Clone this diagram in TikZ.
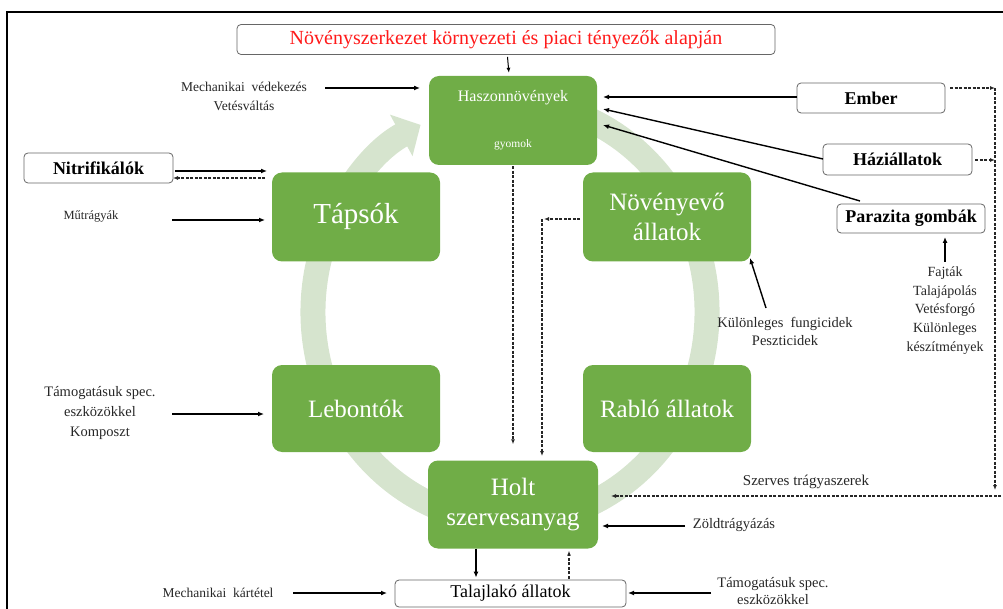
\documentclass[tikz,border=0pt]{standalone}
\usepackage{fontspec}
\setmainfont{Liberation Serif}
\usetikzlibrary{arrows.meta}
\definecolor{gfill}{HTML}{70AD47}
\definecolor{ringc}{HTML}{D6E4CE}
\definecolor{txtc}{HTML}{262626}
\definecolor{titlered}{HTML}{FF1A1A}
\begin{document}
\begin{tikzpicture}[x=1pt,y=-1pt,
 gbox/.style={fill=gfill, rounded corners=10pt, text=white, minimum width=168pt, minimum height=89pt, align=center, inner sep=0pt, font=\fontsize{25}{30}\selectfont},
 wbox/.style={draw=gray!80!black, line width=0.8pt, rounded corners=4pt, fill=white, inner sep=0pt, text=black},
 bbox/.style={wbox, font=\bfseries\fontsize{18}{20}\selectfont},
 lbl/.style={text=txtc, align=center, inner sep=0pt},
 arr/.style={-{Latex[length=6pt,width=5pt]}, line width=1.4pt},
 darr/.style={-{Latex[length=5pt,width=4pt]}, line width=1.2pt, dash pattern=on 3pt off 1.5pt, draw=black!85},
 ring/.style={draw=ringc, line width=25pt, -{Triangle[length=22pt,width=46pt]}},
]
\useasboundingbox (0,0) rectangle (1003,609);
% frame
\draw[line width=2pt] (7,615) -- (7,12) -- (1010,12);

% cycle ring
\coordinate (rc) at (510,312);
\draw[ring] (rc) ++(-75:197 and 210) arc[start angle=-75, end angle=243, x radius=197, y radius=210];

% green boxes
\node[gbox] (hasz) at (513,120.5) {};
\node[text=white, inner sep=0pt, font=\fontsize{16}{19}\selectfont] (haszt) at (513,98) {Haszonnövények};
\node[text=white, inner sep=0pt, font=\fontsize{11.5}{13}\selectfont] (gyom) at (513,145) {gyomok};
\node[gbox, font=\fontsize{29}{32}\selectfont] (taps) at (356,217) {Tápsók};
\node[gbox] (noveny) at (667,217) {Növényevő\\állatok};
\node[gbox, minimum height=87pt] (lebont) at (356,408.5) {Lebontók};
\node[gbox, minimum height=87pt] (rablo) at (667,408.5) {Rabló állatok};
\node[gbox, minimum width=170pt, minimum height=88pt] (holt) at (513,504.5) {Holt\\szervesanyag};

% white boxes
\node[wbox, minimum width=538pt, minimum height=30pt, text=titlered, font=\fontsize{20}{24}\selectfont] (title) at (506,39.5) {Növényszerkezet környezeti és piaci tényezők alapján};
\node[bbox, minimum width=148pt, minimum height=30pt] (ember) at (871,98) {Ember};
\node[bbox, minimum width=149pt, minimum height=31pt] (hazi) at (897.5,159.5) {Háziállatok};
\node[bbox, minimum width=148pt, minimum height=29pt] (parazita) at (911,218.5) {Parazita gombák};
\node[bbox, minimum width=149pt, minimum height=30pt] (nitrif) at (98.5,168) {Nitrifikálók};
\node[wbox, minimum width=231pt, minimum height=27pt, font=\fontsize{18}{20}\selectfont] (talaj) at (510.5,593.5) {Talajlakó állatok};

% labels
\node[lbl, font=\fontsize{13.5}{18.5}\selectfont] (mech) at (244,96.5) {Mechanikai\ \ védekezés\\Vetésváltás};
\node[lbl, font=\fontsize{12.5}{16}\selectfont] (mutr) at (91,217) {Műtrágyák};
\node[lbl, font=\fontsize{14.5}{20}\selectfont] (tamog1) at (100,413) {Támogatásuk spec.\\eszközökkel\\Komposzt};
\node[lbl, font=\fontsize{13.5}{16}\selectfont] (mechk) at (218,593) {Mechanikai\ \ kártétel};
\node[lbl, font=\fontsize{14.5}{18}\selectfont] (kulon) at (785,331) {Különleges\ \ fungicidek\\Peszticidek};
\node[lbl, font=\fontsize{14}{18.7}\selectfont] (fajtak) at (945,310.5) {Fajták\\Talajápolás\\Vetésforgó\\Különleges\\készítmények};
\node[lbl, font=\fontsize{15}{18}\selectfont] (szerves) at (806,482) {Szerves trágyaszerek};
\node[lbl, font=\fontsize{14.5}{18}\selectfont] (zold) at (734,525) {Zöldtrágyázás};
\node[lbl, font=\fontsize{14.5}{17}\selectfont] (tamog2) at (773,591.5) {Támogatásuk spec.\\eszközökkel};

% helper coordinates
\coordinate (mechA) at (325,88);
\coordinate (mechB) at (420,88);
\coordinate (nitA) at (175,171);
\coordinate (nitB) at (267,171);
\coordinate (nitC) at (265,178);
\coordinate (nitD) at (173,178);
\coordinate (mutA) at (172,220);
\coordinate (mutB) at (265,220);
\coordinate (tamA) at (172,414);
\coordinate (tamB) at (264,414);
\coordinate (embA) at (797,97);
\coordinate (embB) at (603,97);
\coordinate (hazA) at (823,159);
\coordinate (hazB) at (603,109);
\coordinate (parA) at (860,201);
\coordinate (parB) at (603,125);
\coordinate (embC) at (950,88);
\coordinate (vTop) at (995,88);
\coordinate (hazC) at (975,160);
\coordinate (hazD) at (995,160);
\coordinate (vBot) at (995,490);
\coordinate (hA) at (1001,496);
\coordinate (hB) at (611,496);
\coordinate (zolA) at (685,526);
\coordinate (zolB) at (602,526);
\coordinate (tmA) at (711,593);
\coordinate (tmB) at (628,593);
\coordinate (mkA) at (293,593);
\coordinate (mkB) at (387,593);
\coordinate (kuA) at (766,308);
\coordinate (kuB) at (750,258);
\coordinate (faA) at (945,262);
\coordinate (faB) at (945,237);
\coordinate (nvA) at (580,219);
\coordinate (nvB) at (544,219);
\coordinate (nvC) at (542,219);
\coordinate (nvD) at (542,456);

% arrows
\draw[arr, line width=1pt, -{Latex[length=5pt,width=4pt]}, shorten >=3pt, shorten <=2pt] (title) -- (hasz);
\draw[arr] (mechA) -- (mechB);
\draw[arr] (nitA) -- (nitB);
\draw[darr] (nitC) -- (nitD);
\draw[arr] (mutA) -- (mutB);
\draw[arr] (tamA) -- (tamB);
\draw[arr] (embA) -- (embB);
\draw[arr] (hazA) -- (hazB);
\draw[arr] (parA) -- (parB);
\draw[darr] (embC) -- (vTop);
\draw[darr] (hazC) -- (hazD);
\draw[darr] (vTop) -- (vBot);
\draw[darr] (hA) -- (hB);
\draw[arr] (zolA) -- (zolB);
\draw[arr] (tmA) -- (tmB);
\draw[arr] (mkA) -- (mkB);
\draw[arr] (kuA) -- (kuB);
\draw[arr] (faA) -- (faB);
\draw[darr, shorten <=1pt, shorten >=16pt] (hasz.south) -- (holt.north);
\draw[darr] (nvA) -- (nvB);
\draw[darr] (nvC) -- (nvD);
\draw[arr, shorten >=2pt] (holt.south -| 476,0) -- (talaj.north -| 476,0);
\draw[darr, shorten <=1pt, shorten >=2pt] (talaj.north -| 569,0) -- (holt.south -| 569,0);
\end{tikzpicture}
\end{document}
